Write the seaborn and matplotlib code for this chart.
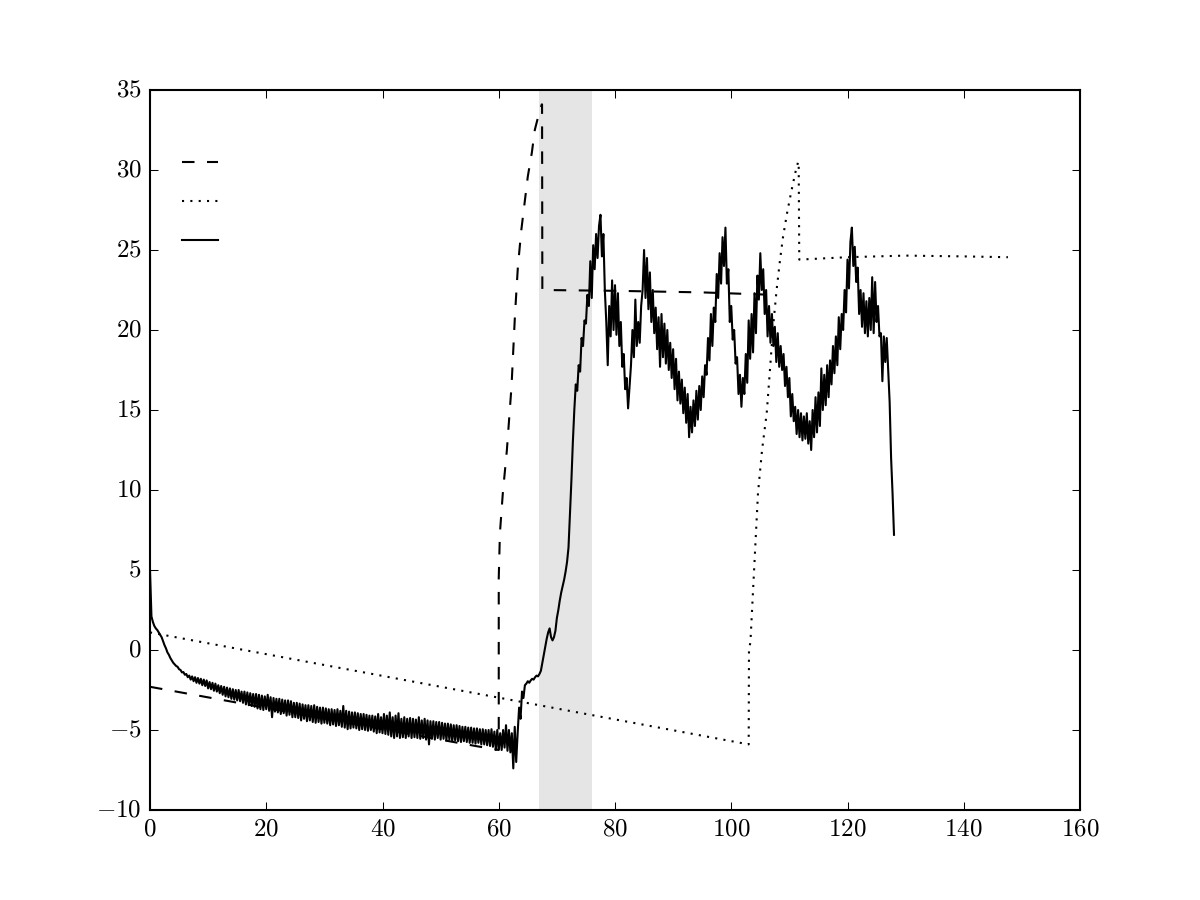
import numpy as np
import matplotlib
matplotlib.use("Agg")
import matplotlib.pyplot as plt
import seaborn as sns

# dashed series (x, y)
dash_x = [0.0, 56.0, 60.0, 60.0, 60.2, 60.7, 61.4, 62.2, 62.8, 63.3, 63.9, 64.5,
          65.0, 65.7, 66.2, 66.9, 67.4, 67.45, 67.5, 80.0, 95.0, 107.0]
dash_y = [-2.3, -6.0, -6.25, 4.5, 7.3, 9.8, 12.5, 16.5, 21.0, 24.0, 26.3, 28.1,
          29.6, 31.1, 32.5, 33.5, 34.1, 34.1, 22.5, 22.45, 22.35, 22.2]

# dotted series (x, y)
dot_x = [0.0, 103.0, 103.05, 103.3, 104.0, 104.6, 105.3, 106.1, 106.7, 107.2,
         107.8, 108.4, 108.9, 109.6, 110.3, 111.0, 111.5, 111.6, 111.7, 120.0,
         130.0, 140.0, 147.6]
dot_y = [1.1, -5.9, 0.0, 0.5, 5.5, 9.8, 12.5, 14.8, 17.7, 20.2,
         22.5, 24.4, 25.8, 27.3, 28.6, 29.8, 30.5, 30.5, 24.4, 24.55,
         24.65, 24.6, 24.55]

# solid series, sampled every 0.25 from 0 to 128 (10 values per row = 2.5 units)
solid_x = np.arange(0, 128.25, 0.25)
solid_y = [
    5.0, 2.1, 1.75, 1.5, 1.35, 1.25, 1.1, 0.95, 0.8, 0.55,                 # 0
    0.3, 0.1, -0.15, -0.3, -0.5, -0.65, -0.8, -0.9, -1.0, -1.05,          # 2.5
    -1.2, -1.25, -1.4, -1.38, -1.55, -1.5, -1.7, -1.6, -1.85, -1.65,      # 5
    -1.95, -1.7, -2.05, -1.75, -2.1, -1.8, -2.2, -1.85, -2.25, -1.9,      # 7.5
    -2.4, -2.0, -2.45, -2.05, -2.55, -2.1, -2.6, -2.2, -2.7, -2.25,       # 10
    -2.8, -2.3, -2.9, -2.35, -2.95, -2.4, -3.05, -2.45, -3.1, -2.5,       # 12.5
    -3.15, -2.5, -3.2, -2.6, -3.3, -2.6, -3.4, -2.65, -3.45, -2.7,        # 15
    -3.5, -2.75, -3.55, -2.75, -3.65, -2.8, -3.7, -2.85, -3.75, -2.9,     # 17.5
    -3.7, -2.8, -3.8, -2.95, -4.2, -3.0, -3.85, -3.05, -3.9, -3.05,       # 20
    -4.0, -3.1, -3.95, -3.15, -4.1, -3.15, -4.05, -3.2, -4.2, -3.3,       # 22.5
    -4.2, -3.3, -4.25, -3.35, -4.4, -3.4, -4.3, -3.45, -4.45, -3.45,      # 25
    -4.4, -3.5, -4.5, -3.45, -4.55, -3.55, -4.5, -3.6, -4.6, -3.6,        # 27.5
    -4.55, -3.65, -4.6, -3.7, -4.7, -3.7, -4.65, -3.75, -4.75, -3.7,      # 30
    -4.7, -3.8, -4.8, -3.5, -4.85, -3.8, -4.95, -3.85, -4.9, -3.9,        # 32.5
    -4.85, -3.9, -4.9, -3.95, -5.0, -4.0, -4.95, -4.0, -5.0, -4.05,       # 35
    -5.05, -4.1, -5.0, -4.1, -5.1, -4.15, -5.2, -4.0, -5.15, -4.2,        # 37.5
    -5.2, -4.0, -5.25, -4.1, -5.3, -3.9, -5.4, -4.2, -5.5, -4.1,          # 40
    -5.4, -3.95, -5.5, -4.3, -5.45, -4.2, -5.5, -4.3, -5.4, -4.25,        # 42.5
    -5.5, -4.3, -5.45, -4.35, -5.5, -4.2, -5.55, -4.4, -5.5, -4.3,        # 45
    -5.6, -4.4, -5.9, -4.45, -5.55, -4.45, -5.6, -4.5, -5.5, -4.5,        # 47.5
    -5.6, -4.55, -5.55, -4.6, -5.65, -4.6, -5.6, -4.65, -5.7, -4.7,       # 50
    -5.65, -4.7, -5.7, -4.75, -5.75, -4.8, -5.7, -4.8, -5.75, -4.85,      # 52.5
    -5.8, -4.85, -5.8, -4.9, -5.85, -4.9, -5.8, -4.95, -5.9, -4.95,       # 55
    -5.9, -5.0, -5.95, -5.0, -6.0, -4.95, -6.05, -5.1, -6.25, -5.0,       # 57.5
    -6.2, -5.2, -6.25, -5.0, -6.1, -4.7, -6.3, -5.0, -6.4, -5.2,          # 60
    -7.4, -4.8, -7.0, -5.2, -3.6, -4.3, -2.6, -3.0, -2.2, -2.1,           # 62.5
    -1.95, -2.05, -1.9, -1.8, -1.85, -1.7, -1.6, -1.65, -1.5, -1.3,       # 65
    -0.8, -0.3, 0.2, 0.7, 1.1, 1.35, 0.8, 0.6, 0.8, 1.2,                  # 67.5
    2.0, 2.5, 3.1, 3.6, 4.0, 4.4, 4.9, 5.5, 6.4, 8.5,                     # 70
    10.6, 13.0, 15.0, 16.6, 16.2, 17.8, 17.4, 19.5, 19.0, 20.6,           # 72.5
    20.4, 22.2, 21.5, 24.3, 22.0, 25.3, 23.8, 26.0, 24.5, 26.5,           # 75
    27.2, 24.6, 26.0, 22.5, 20.5, 17.8, 21.5, 19.6, 23.1, 20.0,           # 77.5
    22.8, 19.7, 22.3, 19.0, 20.5, 17.7, 18.5, 16.3, 17.0, 15.1,           # 80
    16.5, 17.8, 20.0, 18.3, 21.9, 19.0, 20.5, 19.2, 21.5, 22.5,           # 82.5
    25.0, 22.0, 24.5, 21.3, 23.6, 20.5, 22.5, 19.8, 21.4, 18.8,           # 85
    20.8, 17.7, 21.0, 18.3, 20.4, 17.9, 20.0, 17.5, 19.2, 17.0,           # 87.5
    18.8, 16.3, 18.2, 15.6, 17.4, 15.4, 16.9, 14.8, 16.4, 14.2,           # 90
    16.0, 13.3, 15.2, 13.6, 15.6, 14.0, 16.2, 14.4, 16.5, 15.0,           # 92.5
    17.1, 15.8, 17.8, 17.2, 19.5, 18.1, 21.0, 19.0, 21.4, 20.5,           # 95
    23.5, 22.0, 24.8, 22.9, 25.8, 24.0, 26.4, 22.9, 23.8, 20.5,           # 97.5
    21.5, 19.4, 20.0, 17.9, 18.3, 16.0, 17.2, 15.2, 17.0, 16.0,           # 100
    18.5, 16.7, 20.6, 18.2, 21.0, 18.6, 22.3, 19.8, 23.4, 21.9,           # 102.5
    24.8, 22.5, 23.8, 21.0, 22.5, 19.6, 21.5, 19.2, 21.0, 19.0,           # 105
    20.2, 18.0, 19.8, 17.7, 19.0, 17.5, 18.5, 16.5, 17.7, 15.8,           # 107.5
    17.0, 14.6, 16.0, 14.3, 15.2, 13.5, 15.0, 13.3, 14.8, 13.1,           # 110
    14.6, 13.2, 14.8, 12.9, 14.3, 12.5, 15.0, 13.3, 15.8, 13.6,           # 112.5
    16.1, 14.0, 17.6, 15.0, 17.2, 15.3, 17.8, 15.8, 18.1, 16.6,           # 115
    19.0, 17.3, 19.6, 17.8, 20.8, 18.8, 21.0, 20.0, 22.5, 21.1,           # 117.5
    24.4, 22.6, 25.5, 26.4, 24.0, 25.2, 23.0, 23.9, 21.0, 22.5,           # 120
    20.2, 22.3, 19.8, 21.8, 19.6, 22.0, 20.0, 23.3, 19.8, 23.0,           # 122.5
    20.5, 21.5, 19.6, 19.8, 16.8, 19.6, 18.0, 19.5, 17.5, 15.5,           # 125
    12.0, 9.8, 7.2,                                                       # 127.5
]

span_start, span_end = 67.0, 76.0

plt.style.use("classic")
plt.rcParams["font.family"] = "cmr10"
plt.rcParams["mathtext.fontset"] = "cm"
plt.rcParams["axes.formatter.use_mathtext"] = True

fig, ax = plt.subplots(figsize=(8, 6), dpi=150)
fig.patch.set_facecolor("white")

ax.axvspan(span_start, span_end, color="k", alpha=0.1, linewidth=0)

sns.lineplot(x=dash_x, y=dash_y, estimator=None, sort=False, color="k",
             linestyle="--", linewidth=1.0, ax=ax)
sns.lineplot(x=dot_x, y=dot_y, estimator=None, sort=False, color="k",
             linestyle=":", linewidth=1.0, ax=ax)
sns.lineplot(x=solid_x, y=solid_y, estimator=None, sort=False, color="k",
             linestyle="-", linewidth=1.0, ax=ax)

ax.set_xlim(0, 160)
ax.set_ylim(-10, 35)
ax.set_xticks(range(0, 161, 20))
ax.set_yticks(range(-10, 36, 5))
ax.tick_params(direction="in", top=True, right=True, labelsize=12)

ax.legend(handles=ax.lines[:3], labels=["", "", ""], loc="upper left",
          frameon=False, handlelength=2.05, labelspacing=0.65,
          bbox_to_anchor=(0.002, 0.943), fontsize=12)

fig.savefig("out.png", dpi=150, facecolor="white")
